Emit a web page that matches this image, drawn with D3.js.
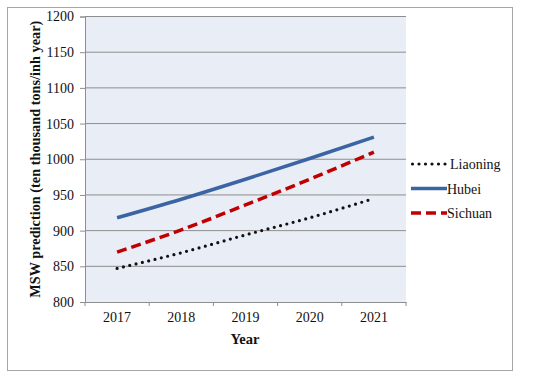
<!DOCTYPE html>
<html>
<head>
<meta charset="utf-8">
<script src="https://cdn.jsdelivr.net/npm/d3@7"></script>
<style>
  body { margin: 0; background: #fff; }
  svg { display: block; font-family: 'Liberation Serif', 'Times New Roman', serif; }
</style>
</head>
<body>
<script>
// Data
const YEARS = ['2017', '2018', '2019', '2020', '2021']
const LIAONING = [847, 869, 894, 918, 945]
const HUBEI = [918, 944, 972, 1001, 1031]
const SICHUAN = [870, 901, 936, 972, 1010]
const Y_TICKS = [800, 850, 900, 950, 1000, 1050, 1100, 1150, 1200]

const series = [
  { name: 'Liaoning', values: LIAONING, color: '#111', width: 3.2, dash: '0 6.5', cap: 'round' },
  { name: 'Hubei', values: HUBEI, color: '#3a64a3', width: 3.5, dash: null, cap: 'butt' },
  { name: 'Sichuan', values: SICHUAN, color: '#c00000', width: 3.5, dash: '10 5', cap: 'butt' }
]

const width = 550
const height = 379
const plot = { left: 85, right: 406, top: 16.5, bottom: 302 }

const svg = d3.select('body').append('svg')
  .attr('width', width)
  .attr('height', height)

// Outer frame
svg.append('rect')
  .attr('x', 7.5).attr('y', 7.5)
  .attr('width', 505).attr('height', 363)
  .attr('fill', '#fff')
  .attr('stroke', '#a6a6a6')
  .attr('stroke-width', 1)

const x = d3.scaleBand()
  .domain(YEARS)
  .range([plot.left, plot.right])

const y = d3.scaleLinear()
  .domain([800, 1200])
  .range([plot.bottom, plot.top])

// Plot background
svg.append('rect')
  .attr('x', plot.left).attr('y', plot.top)
  .attr('width', plot.right - plot.left)
  .attr('height', plot.bottom - plot.top)
  .attr('fill', '#e9edf6')

// Gridlines
svg.append('g')
  .selectAll('line')
  .data(Y_TICKS.slice(1))
  .enter()
  .append('line')
  .attr('x1', plot.left).attr('x2', plot.right)
  .attr('y1', d => y(d)).attr('y2', d => y(d))
  .attr('stroke', '#8e8e8e')
  .attr('stroke-width', 1)

// Y axis
const yAxis = svg.append('g')
  .attr('transform', `translate(${plot.left},0)`)
  .call(d3.axisLeft(y).tickValues(Y_TICKS).tickFormat(d3.format('d')).tickSize(5).tickPadding(6))
yAxis.attr('font-family', "'Liberation Serif', serif").attr('font-size', 14)
yAxis.select('.domain').attr('stroke', '#8e8e8e')
yAxis.selectAll('.tick line').attr('stroke', '#8e8e8e')
yAxis.selectAll('.tick text').attr('fill', '#111')

// X axis
const xAxis = svg.append('g')
  .attr('transform', `translate(0,${plot.bottom})`)
  .call(d3.axisBottom(x).tickSize(0).tickPadding(10))
xAxis.attr('font-family', "'Liberation Serif', serif").attr('font-size', 14)
xAxis.select('.domain').attr('stroke', '#8e8e8e')
xAxis.selectAll('.tick text').attr('fill', '#111')

// X tick marks at band edges
svg.append('g')
  .selectAll('line')
  .data(YEARS.concat(['end']))
  .enter()
  .append('line')
  .attr('x1', (d, i) => plot.left + i * x.step())
  .attr('x2', (d, i) => plot.left + i * x.step())
  .attr('y1', plot.bottom)
  .attr('y2', plot.bottom + 4)
  .attr('stroke', '#8e8e8e')

// Lines
const line = d3.line()
  .x((d, i) => x(YEARS[i]) + x.bandwidth() / 2)
  .y(d => y(d))
  .curve(d3.curveMonotoneX)

svg.append('g')
  .selectAll('path')
  .data(series)
  .enter()
  .append('path')
  .attr('d', d => line(d.values))
  .attr('fill', 'none')
  .attr('stroke', d => d.color)
  .attr('stroke-width', d => d.width)
  .attr('stroke-dasharray', d => d.dash)
  .attr('stroke-linecap', d => d.cap)

// Axis titles
svg.append('text')
  .attr('x', 245).attr('y', 344)
  .attr('text-anchor', 'middle')
  .attr('font-weight', 'bold')
  .attr('font-size', 14.5)
  .attr('fill', '#111')
  .text('Year')

svg.append('text')
  .attr('transform', `translate(40,${(plot.top + plot.bottom) / 2}) rotate(-90)`)
  .attr('text-anchor', 'middle')
  .attr('font-weight', 'bold')
  .attr('font-size', 14.3)
  .attr('fill', '#111')
  .text('MSW prediction (ten thousand tons/inh year)')

// Legend
const legend = svg.append('g')
const rows = legend.selectAll('g')
  .data(series)
  .enter()
  .append('g')
  .attr('transform', (d, i) => `translate(411,${164 + i * 24.5})`)

rows.append('line')
  .attr('x1', d => d.cap === 'round' ? 1.5 : 0)
  .attr('x2', 36)
  .attr('stroke', d => d.color)
  .attr('stroke-width', d => d.width)
  .attr('stroke-dasharray', d => d.dash)
  .attr('stroke-linecap', d => d.cap)

rows.append('text')
  .attr('x', d => d.cap === 'round' ? 39 : 36)
  .attr('y', 5)
  .attr('font-size', 14)
  .attr('fill', '#111')
  .text(d => d.name)
</script>
</body>
</html>
